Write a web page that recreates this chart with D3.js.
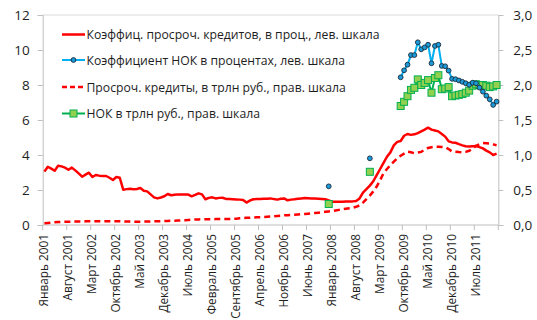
<!DOCTYPE html>
<html>
<head>
<meta charset="utf-8">
<script src="https://cdn.jsdelivr.net/npm/d3@7/dist/d3.min.js"></script>
<style>
  html, body { margin: 0; padding: 0; background: #fff; }
  svg { display: block; font-family: "Open Sans", "DejaVu Sans", sans-serif; }
</style>
</head>
<body>
<svg id="chart" width="537" height="320"></svg>
<script>
// Monthly categories, Январь 2001 … Январь 2012
const monthNames = ["Январь","Февраль","Март","Апрель","Май","Июнь","Июль","Август","Сентябрь","Октябрь","Ноябрь","Декабрь"];
const categories = d3.range(133).map(i => monthNames[i % 12] + " " + (2001 + Math.floor(i / 12)));

// Коэффициент просроченных кредитов, % (left scale)
const overdueRatio = [
  3.05, 3.33, 3.22, 3.10, 3.39, 3.35, 3.28, 3.16, 3.28, 3.12, 2.95, 2.76,
  2.88, 2.99, 2.74, 2.86, 2.82, 2.80, 2.80, 2.70, 2.57, 2.74, 2.70, 2.02,
  2.05, 2.07, 2.04, 2.06, 2.11, 1.96, 1.92, 1.75, 1.58, 1.52, 1.57, 1.64,
  1.77, 1.70, 1.73, 1.75, 1.74, 1.75, 1.74, 1.64, 1.72, 1.81, 1.75, 1.47,
  1.55, 1.58, 1.52, 1.55, 1.56, 1.49, 1.48, 1.47, 1.46, 1.45, 1.43, 1.28,
  1.40, 1.47, 1.48, 1.49, 1.50, 1.50, 1.52, 1.48, 1.45, 1.50, 1.52, 1.41,
  1.45, 1.47, 1.50, 1.52, 1.54, 1.53, 1.52, 1.51, 1.50, 1.49, 1.47, 1.40,
  1.33, 1.33, 1.33, 1.33, 1.34, 1.35, 1.35, 1.37, 1.52, 1.85, 2.05, 2.25,
  2.50, 2.85, 3.20, 3.55, 3.90, 4.15, 4.55, 4.75, 4.80, 5.10, 5.20, 5.15,
  5.18, 5.25, 5.35, 5.45, 5.56, 5.45, 5.40, 5.35, 5.20, 5.05, 4.78, 4.72,
  4.70, 4.62, 4.55, 4.50, 4.48, 4.50, 4.51, 4.45, 4.38, 4.25, 4.15, 4.00,
  4.08
];

// Просроченные кредиты, трлн руб. (right scale)
const overdueLoans = [
  0.025, 0.030, 0.034, 0.038, 0.042, 0.045, 0.046, 0.047, 0.048, 0.049, 0.050, 0.051,
  0.052, 0.053, 0.053, 0.054, 0.054, 0.055, 0.055, 0.055, 0.054, 0.053, 0.052, 0.051,
  0.050, 0.049, 0.048, 0.048, 0.048, 0.049, 0.050, 0.051, 0.052, 0.053, 0.055, 0.057,
  0.058, 0.060, 0.062, 0.064, 0.067, 0.069, 0.072, 0.075, 0.078, 0.080, 0.081, 0.082,
  0.083, 0.083, 0.084, 0.084, 0.085, 0.085, 0.086, 0.088, 0.091, 0.095, 0.099, 0.102,
  0.105, 0.108, 0.110, 0.112, 0.115, 0.117, 0.120, 0.124, 0.128, 0.133, 0.138, 0.141,
  0.144, 0.147, 0.150, 0.154, 0.157, 0.161, 0.166, 0.171, 0.176, 0.181, 0.188, 0.194,
  0.200, 0.208, 0.216, 0.224, 0.232, 0.240, 0.245, 0.260, 0.280, 0.320, 0.370, 0.420,
  0.480, 0.550, 0.640, 0.740, 0.800, 0.857, 0.905, 0.952, 0.990, 1.020, 1.048, 1.040,
  1.025, 1.035, 1.045, 1.075, 1.100, 1.110, 1.119, 1.118, 1.114, 1.110, 1.085, 1.050,
  1.046, 1.042, 1.040, 1.045, 1.060, 1.090, 1.130, 1.155, 1.170, 1.168, 1.165, 1.152,
  1.140
];

// Months (category index) with НОК observations
const nplIdx = [83, 95, 104, 105, 106, 107, 108, 109, 110, 111, 112, 113, 114, 115, 116, 117, 118,
  119, 120, 121, 122, 123, 124, 125, 126, 127, 128, 129, 130, 131, 132];

// Коэффициент НОК, % (left scale)
const nplRatio = [2.21, 3.81, 8.44, 8.84, 9.16, 9.71, 9.71, 10.44, 10.04, 10.15, 10.30, 9.24, 10.23, 10.30,
  9.09, 9.07, 8.82, 8.35, 8.33, 8.26, 8.18, 8.10, 8.01, 8.13, 8.10, 7.85, 7.62, 7.39, 7.18, 6.86, 7.05];

// НОК, трлн руб. (right scale)
const nplVolume = [0.30, 0.76, 1.70, 1.76, 1.84, 1.93, 1.96, 2.08, 2.00, 2.03, 2.07, 1.89, 2.10, 2.14,
  1.94, 1.95, 1.97, 1.84, 1.85, 1.86, 1.87, 1.89, 1.92, 1.99, 2.01, 2.00, 2.00, 1.99, 1.97, 1.98, 2.00];

const leftTicks = [0, 2, 4, 6, 8, 10, 12];
const rightTicks = [0, 0.5, 1.0, 1.5, 2.0, 2.5, 3.0];

const legendLabels = [
  "Коэффиц. просроч. кредитов, в проц., лев. шкала",
  "Коэффициент НОК в процентах, лев. шкала",
  "Просроч. кредиты, в трлн руб., прав. шкала",
  "НОК в трлн руб., прав. шкала"
];

const svg = d3.select("#chart");
const plot = { left: 42.7, right: 498.3, top: 15, bottom: 225 };

// category axis with points placed between tick marks
const x = d3.scaleBand().domain(d3.range(categories.length)).range([plot.left, plot.right]).paddingInner(0).paddingOuter(0);
const cx = i => x(i) + x.bandwidth() / 2;
const yL = d3.scaleLinear().domain([0, 12]).range([plot.bottom, plot.top]);
const yR = d3.scaleLinear().domain([0, 3]).range([plot.bottom, plot.top]);

const axisColor = "#bfbfbf";
const textColor = "#1e1e1e";

// frame: top border
svg.append("line").attr("x1", plot.left).attr("x2", plot.right)
  .attr("y1", plot.top).attr("y2", plot.top).attr("stroke", "#d9d9d9").attr("stroke-width", 1);

// left axis
const gL = svg.append("g").attr("transform", `translate(${plot.left},0)`)
  .call(d3.axisLeft(yL).tickValues(leftTicks).tickSize(5).tickPadding(8).tickFormat(d3.format("d")));
gL.selectAll("path, line").attr("stroke", axisColor);
gL.selectAll("text").attr("fill", textColor).style("font-size", "13.5px").style("font-family", "Open Sans, sans-serif");

// right axis
const fmtComma = d => d.toFixed(1).replace(".", ",");
const gR = svg.append("g").attr("transform", `translate(${plot.right},0)`)
  .call(d3.axisRight(yR).tickValues(rightTicks).tickSize(5).tickPadding(10).tickFormat(fmtComma));
gR.selectAll("path, line").attr("stroke", axisColor);
gR.selectAll("text").attr("fill", textColor).style("font-size", "13.5px").style("font-family", "Open Sans, sans-serif");

// bottom axis: ticks every 7 months at category boundaries
const tickIdx = d3.range(0, categories.length, 7);
const gB = svg.append("g");
gB.append("line").attr("x1", plot.left).attr("x2", plot.right)
  .attr("y1", plot.bottom).attr("y2", plot.bottom).attr("stroke", axisColor);
gB.selectAll("line.tick").data(tickIdx.concat([categories.length])).join("line")
  .attr("class", "tick")
  .attr("x1", i => i < categories.length ? x(i) : plot.right)
  .attr("x2", i => i < categories.length ? x(i) : plot.right)
  .attr("y1", plot.bottom).attr("y2", plot.bottom + 5).attr("stroke", axisColor);
gB.selectAll("text").data(tickIdx.filter(i => i < 132)).join("text")
  .attr("transform", i => `translate(${cx(i) + 4},${plot.bottom + 9}) rotate(-90)`)
  .attr("text-anchor", "end")
  .attr("fill", textColor)
  .style("font-size", "11.8px")
  .text(i => categories[i]);

// overdue loans, trillion rubles (dashed)
svg.append("path").datum(overdueLoans)
  .attr("d", d3.line().x((d, i) => cx(i)).y(d => yR(d)))
  .attr("fill", "none").attr("stroke", "#ff0000").attr("stroke-width", 2.5)
  .attr("stroke-dasharray", "6,4");

// overdue ratio, %
svg.append("path").datum(overdueRatio)
  .attr("d", d3.line().x((d, i) => cx(i)).y(d => yL(d)))
  .attr("fill", "none").attr("stroke", "#ff0000").attr("stroke-width", 2.5)
  .attr("stroke-linejoin", "round");

// NPL points; connecting lines only over consecutive months
const nplRatioPts = nplIdx.map((idx, k) => ({ i: idx, v: nplRatio[k] }));
const nplVolPts = nplIdx.map((idx, k) => ({ i: idx, v: nplVolume[k] }));
const consecutive = pts => pts.filter((p, k) => (k > 0 && pts[k - 1].i === p.i - 1) || (k < pts.length - 1 && pts[k + 1].i === p.i + 1));

// NPL volume: green line + squares
svg.append("path").datum(consecutive(nplVolPts))
  .attr("d", d3.line().x(d => cx(d.i)).y(d => yR(d.v)))
  .attr("fill", "none").attr("stroke", "#00b050").attr("stroke-width", 2);
svg.selectAll("rect.npl").data(nplVolPts).join("rect")
  .attr("class", "npl")
  .attr("x", d => cx(d.i) - 3.5).attr("y", d => yR(d.v) - 3.5)
  .attr("width", 7).attr("height", 7)
  .attr("fill", "#92d050").attr("stroke", "#00b050").attr("stroke-width", 1);

// NPL ratio: blue line + circles
svg.append("path").datum(consecutive(nplRatioPts))
  .attr("d", d3.line().x(d => cx(d.i)).y(d => yL(d.v)))
  .attr("fill", "none").attr("stroke", "#00b0f0").attr("stroke-width", 2);
svg.selectAll("circle.npl").data(nplRatioPts).join("circle")
  .attr("class", "npl")
  .attr("cx", d => cx(d.i)).attr("cy", d => yL(d.v)).attr("r", 2.4)
  .attr("fill", "#1a9ad8").attr("stroke", "#1b2a3a").attr("stroke-width", 0.9);

// legend
const lg = svg.append("g");
const legendY = [34.5, 60, 87, 113.5];
legendLabels.forEach((label, k) => {
  const yy = legendY[k];
  const g = lg.append("g");
  if (k === 0) {
    g.append("line").attr("x1", 62).attr("x2", 85).attr("y1", yy).attr("y2", yy).attr("stroke", "#ff0000").attr("stroke-width", 2.5);
  } else if (k === 1) {
    g.append("line").attr("x1", 62).attr("x2", 85).attr("y1", yy).attr("y2", yy).attr("stroke", "#00b0f0").attr("stroke-width", 2);
    g.append("circle").attr("cx", 73.5).attr("cy", yy).attr("r", 2.4).attr("fill", "#1a9ad8").attr("stroke", "#1b2a3a").attr("stroke-width", 0.9);
  } else if (k === 2) {
    g.append("line").attr("x1", 62).attr("x2", 85).attr("y1", yy).attr("y2", yy).attr("stroke", "#ff0000").attr("stroke-width", 2.5).attr("stroke-dasharray", "5,3");
  } else {
    g.append("line").attr("x1", 62).attr("x2", 85).attr("y1", yy).attr("y2", yy).attr("stroke", "#00b050").attr("stroke-width", 2);
    g.append("rect").attr("x", 70).attr("y", yy - 3.5).attr("width", 7).attr("height", 7).attr("fill", "#92d050").attr("stroke", "#00b050");
  }
  g.append("text").attr("x", 86.5).attr("y", yy + 4.5)
    .attr("fill", textColor).style("font-size", "12.2px")
    .text(label);
});
</script>
</body>
</html>
